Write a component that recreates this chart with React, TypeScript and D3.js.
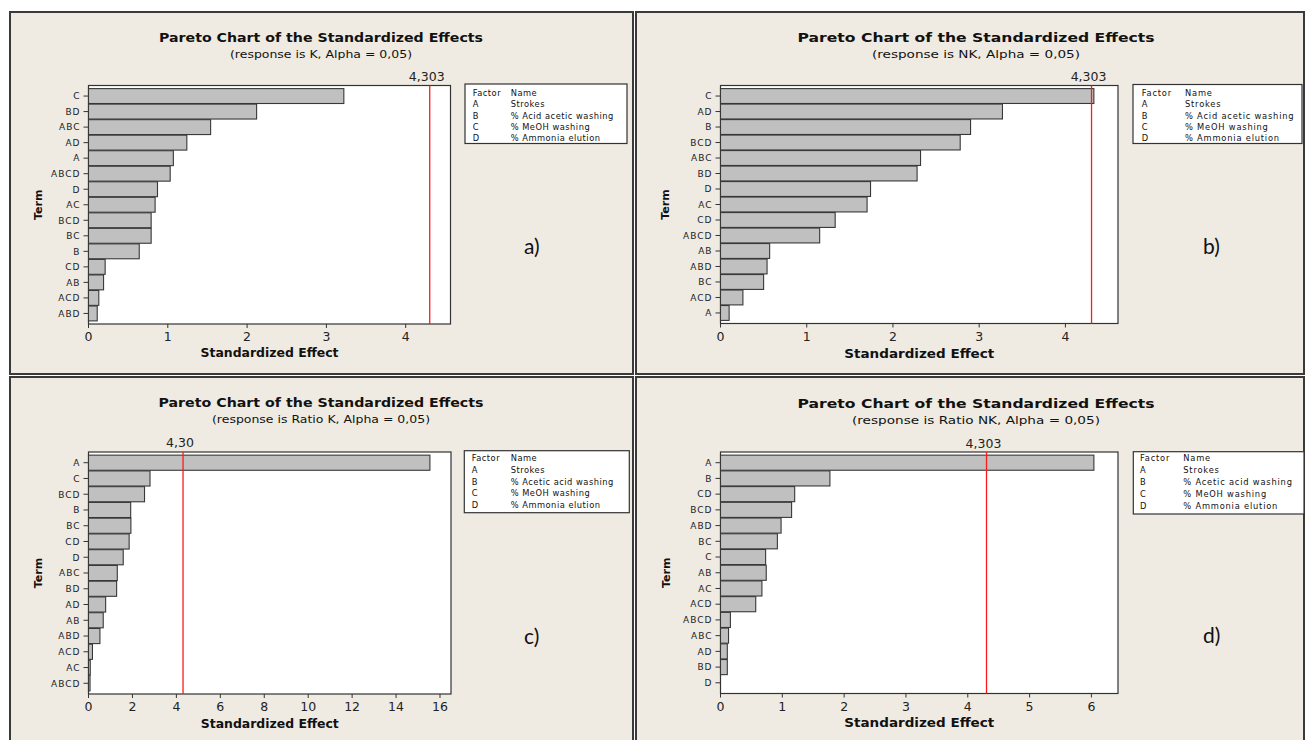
import React from 'react';
import * as d3 from 'd3';

// ---------- DATA ----------
const termsA = ["C", "BD", "ABC", "AD", "A", "ABCD", "D", "AC", "BCD", "BC", "B", "CD", "AB", "ACD", "ABD"];
const effectsA = [3.22, 2.12, 1.54, 1.24, 1.07, 1.03, 0.87, 0.84, 0.79, 0.79, 0.64, 0.21, 0.19, 0.13, 0.11];

const termsB = ["C", "AD", "B", "BCD", "ABC", "BD", "D", "AC", "CD", "ABCD", "AB", "ABD", "BC", "ACD", "A"];
const effectsB = [4.33, 3.27, 2.90, 2.78, 2.32, 2.28, 1.74, 1.70, 1.33, 1.15, 0.57, 0.54, 0.50, 0.26, 0.10];

const termsC = ["A", "C", "BCD", "B", "BC", "CD", "D", "ABC", "BD", "AD", "AB", "ABD", "ACD", "AC", "ABCD"];
const effectsC = [15.54, 2.80, 2.55, 1.92, 1.93, 1.85, 1.58, 1.31, 1.28, 0.78, 0.67, 0.52, 0.18, 0.08, 0.07];

const termsD = ["A", "B", "CD", "BCD", "ABD", "BC", "C", "AB", "AC", "ACD", "ABCD", "ABC", "AD", "BD", "D"];
const effectsD = [6.04, 1.77, 1.20, 1.15, 0.98, 0.92, 0.73, 0.74, 0.67, 0.57, 0.16, 0.13, 0.11, 0.11, 0];

const criticalValues = [4.303, 4.303, 4.303, 4.303];
const criticalLabels = ["4,303", "4,303", "4,30", "4,303"];
const domainMax = [4.565, 4.61, 16.5, 6.43];

const ticksA = [0, 1, 2, 3, 4];
const ticksB = [0, 1, 2, 3, 4];
const ticksC = [0, 2, 4, 6, 8, 10, 12, 14, 16];
const ticksD = [0, 1, 2, 3, 4, 5, 6];

const chartTitle = "Pareto Chart of the Standardized Effects";
const subtitles = [
  "(response is K, Alpha = 0,05)",
  "(response is NK, Alpha = 0,05)",
  "(response is Ratio K, Alpha = 0,05)",
  "(response is Ratio NK, Alpha = 0,05)",
];
const panelLetters = ["a)", "b)", "c)", "d)"];

const legendFactors = ["A", "B", "C", "D"];
const legendNamesAB = ["Strokes", "% Acid acetic washing", "% MeOH washing", "% Ammonia elution"];
const legendNamesCD = ["Strokes", "% Acetic acid washing", "% MeOH washing", "% Ammonia elution"];

// ---------- LAYOUT ----------
const FONT = "'DejaVu Sans', Verdana, sans-serif";
const PANEL_BG = "#efebe2";
const BAR_FILL = "#c0c0c0";
const BAR_STROKE = "#383838";

type Layout = {
  frame: { x: number; y: number; w: number; h: number };
  plot: { x0: number; x1: number; y0: number; y1: number };
  titleCx: number; titleY: number; titleLen: number;
  subY: number; subLen: number;
  xLabelLen: number; xLabelY: number;
  termX: number;
  critY: number;
  legend: { x: number; y: number; w: number; h: number; fx: number; nx: number; row0: number; pitch: number; ls: number };
  letter: { x: number; y: number };
};

const layouts: Layout[] = [
  {
    frame: { x: 10, y: 12, w: 623, h: 362 },
    plot: { x0: 88.5, x1: 450.5, y0: 85.5, y1: 324 },
    titleCx: 321, titleY: 41.5, titleLen: 324, subY: 58, subLen: 182,
    xLabelLen: 138, xLabelY: 357, termX: 37.5, critY: 81,
    legend: { x: 465, y: 84, w: 162, h: 59.5, fx: 472.7, nx: 510.7, row0: 92.8, pitch: 11.4, ls: 0.5 },
    letter: { x: 524, y: 254 },
  },
  {
    frame: { x: 636, y: 12, w: 668, h: 362 },
    plot: { x0: 720.5, x1: 1118, y0: 85.5, y1: 323.5 },
    titleCx: 976, titleY: 41.5, titleLen: 357, subY: 58, subLen: 208,
    xLabelLen: 150, xLabelY: 357.5, termX: 665, critY: 81,
    legend: { x: 1133, y: 84.5, w: 169, h: 59, fx: 1141.7, nx: 1185, row0: 92.8, pitch: 11.4, ls: 0.8 },
    letter: { x: 1203, y: 254 },
  },
  {
    frame: { x: 10, y: 377, w: 623, h: 370 },
    plot: { x0: 88.5, x1: 451, y0: 452, y1: 694 },
    titleCx: 321, titleY: 406.5, titleLen: 325, subY: 423, subLen: 218,
    xLabelLen: 138, xLabelY: 728, termX: 37.5, critY: 447,
    legend: { x: 464.3, y: 450.7, w: 165, h: 62, fx: 471.7, nx: 510.7, row0: 458.3, pitch: 11.7, ls: 0.5 },
    letter: { x: 524, y: 644 },
  },
  {
    frame: { x: 636, y: 377, w: 668, h: 370 },
    plot: { x0: 720.5, x1: 1118, y0: 452, y1: 693.5 },
    titleCx: 976, titleY: 407.5, titleLen: 357, subY: 424, subLen: 248,
    xLabelLen: 150, xLabelY: 727, termX: 665.5, critY: 447.5,
    legend: { x: 1133.3, y: 451.7, w: 170.7, h: 62.3, fx: 1140, nx: 1183.3, row0: 458.3, pitch: 11.8, ls: 0.8 },
    letter: { x: 1203, y: 643 },
  },
];

const panelData = [
  { terms: termsA, effects: effectsA, ticks: ticksA, names: legendNamesAB },
  { terms: termsB, effects: effectsB, ticks: ticksB, names: legendNamesAB },
  { terms: termsC, effects: effectsC, ticks: ticksC, names: legendNamesCD },
  { terms: termsD, effects: effectsD, ticks: ticksD, names: legendNamesCD },
];

function Panel({ i }: { i: number }) {
  const L = layouts[i];
  const D = panelData[i];
  const { x0, x1, y0, y1 } = L.plot;
  const x = d3.scaleLinear().domain([0, domainMax[i]]).range([x0, x1]);
  const y = d3.scaleBand<string>().domain(D.terms).range([y0, y1]).paddingInner(0.04).paddingOuter(0.2);
  const crit = x(criticalValues[i]);
  const lg = L.legend;
  return (
    <g>
      <rect x={L.frame.x} y={L.frame.y} width={L.frame.w} height={L.frame.h} fill={PANEL_BG} stroke="#3a3a3a" strokeWidth={2} />
      <text x={L.titleCx} y={L.titleY} textAnchor="middle" fontFamily={FONT} fontWeight="bold" fontSize={12.5}
        textLength={L.titleLen} lengthAdjust="spacingAndGlyphs" fill="#111">{chartTitle}</text>
      <text x={L.titleCx} y={L.subY} textAnchor="middle" fontFamily={FONT} fontSize={11.3}
        textLength={L.subLen} lengthAdjust="spacingAndGlyphs" fill="#111">{subtitles[i]}</text>

      <rect x={x0} y={y0} width={x1 - x0} height={y1 - y0} fill="#ffffff" stroke="#333" strokeWidth={1.2} />
      {D.terms.map((t, k) => {
        const v = D.effects[k];
        if (v <= 0) return null;
        return (
          <rect key={t} x={x(0)} y={y(t)!} width={x(v) - x(0)} height={y.bandwidth()}
            fill={BAR_FILL} stroke={BAR_STROKE} strokeWidth={1.1} />
        );
      })}
      <line x1={crit} x2={crit} y1={y0} y2={y1} stroke="#ff1a1a" strokeWidth={1.3} />
      <text x={crit - 3} y={L.critY} textAnchor="middle" fontFamily={FONT} fontSize={12.5} fill="#222">{criticalLabels[i]}</text>

      {D.terms.map((t) => {
        const cy = y(t)! + y.bandwidth() / 2;
        return (
          <g key={"yt" + t}>
            <line x1={x0 - 5} x2={x0} y1={cy} y2={cy} stroke="#333" strokeWidth={1} />
            <text x={x0 - 8} y={cy + 3.3} textAnchor="end" fontFamily={FONT} fontSize={9} letterSpacing={1} fill="#222">{t}</text>
          </g>
        );
      })}
      {D.ticks.map((tv) => (
        <g key={"xt" + tv}>
          <line x1={x(tv)} x2={x(tv)} y1={y1} y2={y1 + 4} stroke="#333" strokeWidth={1} />
          <text x={x(tv)} y={y1 + 17} textAnchor="middle" fontFamily={FONT} fontSize={12.5} fill="#222">{tv}</text>
        </g>
      ))}
      <text x={(x0 + x1) / 2} y={L.xLabelY} textAnchor="middle" fontFamily={FONT} fontWeight="bold" fontSize={11.5}
        textLength={L.xLabelLen} lengthAdjust="spacingAndGlyphs" fill="#111">Standardized Effect</text>
      <text transform={`translate(${L.termX + 4},${(y0 + y1) / 2}) rotate(-90)`} textAnchor="middle" fontFamily={FONT}
        fontWeight="bold" fontSize={11} fill="#111">Term</text>

      <rect x={lg.x} y={lg.y} width={lg.w} height={lg.h} fill="#ffffff" stroke="#333" strokeWidth={1.2} />
      <text x={lg.fx} y={lg.row0 + 3} fontFamily={FONT} fontSize={8.3} letterSpacing={lg.ls} fill="#111">Factor</text>
      <text x={lg.nx} y={lg.row0 + 3} fontFamily={FONT} fontSize={8.3} letterSpacing={lg.ls} fill="#111">Name</text>
      {legendFactors.map((f, k) => (
        <g key={"lg" + f}>
          <text x={lg.fx} y={lg.row0 + (k + 1) * lg.pitch + 3} fontFamily={FONT} fontSize={8.3} letterSpacing={lg.ls} fill="#111">{f}</text>
          <text x={lg.nx} y={lg.row0 + (k + 1) * lg.pitch + 3} fontFamily={FONT} fontSize={8.3} letterSpacing={lg.ls} fill="#111">{D.names[k]}</text>
        </g>
      ))}

      <text x={L.letter.x} y={L.letter.y} fontFamily="Lato, 'Open Sans', sans-serif" fontSize={21} fill="#111">{panelLetters[i]}</text>
    </g>
  );
}

export default function App() {
  return (
    <svg width={1306} height={740} style={{ position: 'absolute', left: 0, top: 0, background: '#ffffff' }}>
      {[0, 1, 2, 3].map((i) => <Panel key={i} i={i} />)}
    </svg>
  );
}
